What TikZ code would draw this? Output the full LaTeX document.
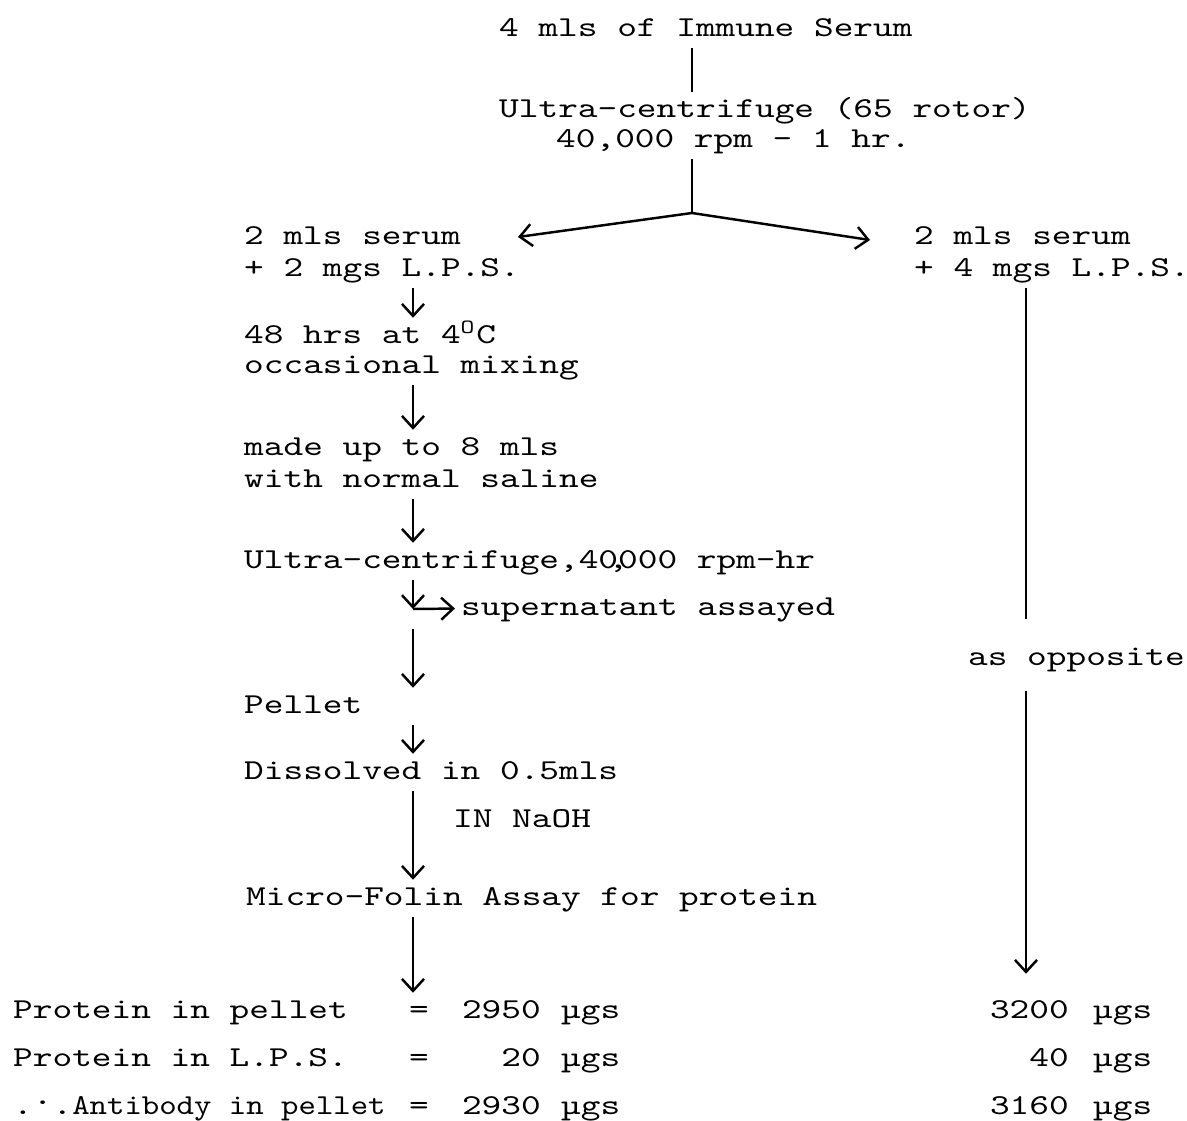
\documentclass[tikz,border=0pt]{standalone}
\usepackage{fontspec}
\usetikzlibrary{arrows.meta}
\newfontfamily\typer{lmmono10-regular.otf}[FakeStretch=1.3]
\newfontfamily\typenarrow{lmmono10-regular.otf}[FakeStretch=1.15]

\begin{document}
\begin{tikzpicture}[
  x=0.01cm, y=-0.01cm,
  >={Straight Barb[length=1.2mm,width=2.2mm]}, line width=0.7pt,
  txt/.style={anchor=base west, inner xsep=0pt, inner ysep=0.06cm,
    text height=0.18cm, text depth=0.05cm,
    font=\typer\fontsize{8.2}{9}\selectfont},
  num/.style={txt, anchor=base east}
]
\useasboundingbox (0,0) rectangle (1187,1121);

% stem and split
\node[txt] (top) at (498,36) {4 mls of Immune Serum};
\node[txt] (uc1) at (498,117) {Ultra-centrifuge (65 rotor)};
\node[txt] (uc2) at (555,147) {40,000 rpm - 1 hr.};
\coordinate (stem) at (692,0);
\coordinate (split) at (692,213);
\coordinate (tipL) at (518,237);
\coordinate (tipR) at (870,240);
\draw (top.south -| stem) -- (uc1.north -| stem);
\draw (uc2.south -| stem) -- (split);
\draw[->] (split) -- (tipL);
\draw[->] (split) -- (tipR);

% left branch
\node[txt] (serA) at (243,245) {2 mls serum};
\node[txt] (lpsA) at (243,276) {+ 2 mgs L.P.S.};
\node[txt] (hrs) at (243,343) {48 hrs at 4\textsuperscript{O}C};
\node[txt] (mix) at (243,373) {occasional mixing};
\node[txt] (made) at (243,455) {made up to 8 mls};
\node[txt] (saline) at (243,487) {with normal saline};
\node[txt] (uc3) at (243,568) {Ultra-centrifuge,40\makebox[0pt]{,}000 rpm-hr};
\node[txt] (sup) at (460,615) {supernatant assayed};
\node[txt] (pellet) at (243,713) {Pellet};
\node[txt] (diss) at (243,779) {Dissolved in 0.5mls};
\node[txt] (naoh) at (452,827) {IN NaOH};
\node[txt] (micro) at (245,905) {Micro-Folin Assay for protein};
\coordinate (colL) at (413,0);
\coordinate (bend) at (413,609);
\draw[->] (lpsA.south -| colL) -- (hrs.north -| colL);
\draw[->] (mix.south -| colL) -- (made.north -| colL);
\draw[->] (saline.south -| colL) -- (uc3.north -| colL);
\draw[->] (uc3.south -| colL) -- (bend);
\draw[->, shorten >=0.05cm] (bend) -- (sup.west);
\draw[->] ([yshift=-0.2cm]bend) -- (pellet.north -| colL);
\draw[->] (pellet.south -| colL) -- (diss.north -| colL);
\draw[->] (diss.south -| colL) -- (micro.north -| colL);

% right branch
\node[txt] (serB) at (913,245) {2 mls serum};
\node[txt] (lpsB) at (913,276) {+ 4 mgs L.P.S.};
\node[txt] (opp) at (967,665) {as opposite};
\coordinate (colR) at (1026,0);

% results
\node[txt] (lab1) at (12,1018) {Protein in pellet};
\node[txt] (eq1) at (408,1018) {=};
\node[num] (valA1) at (542,1018) {2950};
\node[txt] (unitA1) at (560,1018) {µgs};
\node[num] (valB1) at (1070,1018) {3200};
\node[txt] (unitB1) at (1092,1018) {µgs};

\node[txt] (lab2) at (12,1066) {Protein in L.P.S.};
\node[txt] (eq2) at (408,1066) {=};
\node[num] (valA2) at (542,1066) {20};
\node[txt] (unitA2) at (560,1066) {µgs};
\node[num] (valB2) at (1070,1066) {40};
\node[txt] (unitB2) at (1092,1066) {µgs};

\node[txt] (lab3) at (12,1114) {.\raisebox{0.75ex}{.}.\typenarrow Antibody in pellet};
\node[txt] (eq3) at (408,1114) {=};
\node[num] (valA3) at (542,1114) {2930};
\node[txt] (unitA3) at (560,1114) {µgs};
\node[num] (valB3) at (1070,1114) {3160};
\node[txt] (unitB3) at (1092,1114) {µgs};

\draw[->] (micro.south -| colL) -- (eq1.north -| colL);
\draw[shorten >=0.21cm] (lpsB.south -| colR) -- (opp.north -| colR);
\draw[->, shorten <=0.14cm, shorten >=0.19cm] (opp.south -| colR) -- (valB1.north -| colR);
\end{tikzpicture}
\end{document}
